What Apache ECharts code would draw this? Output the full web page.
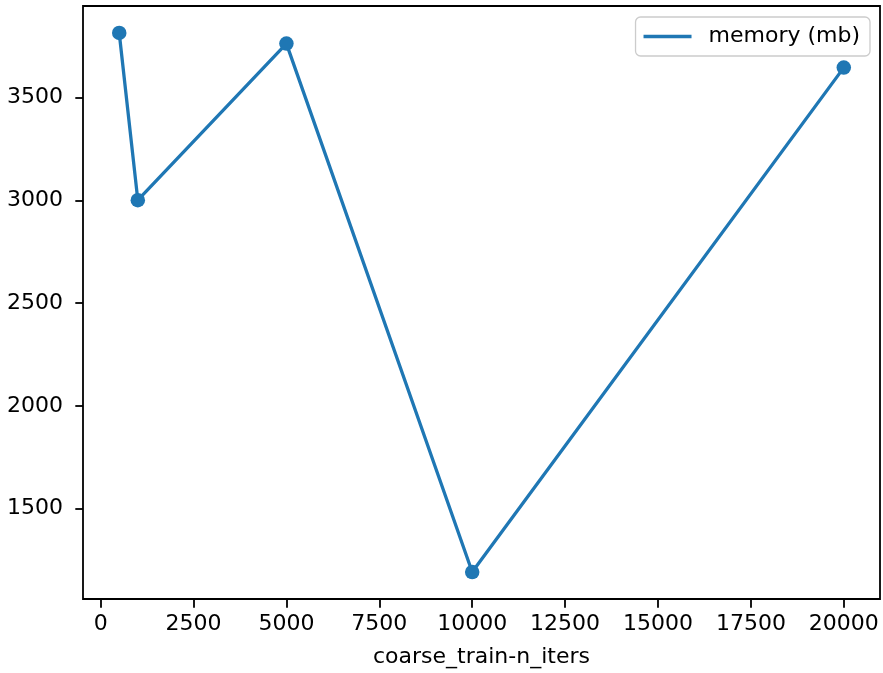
<!DOCTYPE html>
<html>
<head>
<meta charset="utf-8">
<script src="https://cdn.jsdelivr.net/npm/echarts@6/dist/echarts.min.js"></script>
<style>
  html, body { margin: 0; padding: 0; background: #fff; }
  #chart { width: 883px; height: 673px; }
</style>
</head>
<body>
<div id="chart"></div>
<script>
// Iteration counts and the memory measured at each
const iters = [500, 1000, 5000, 10000, 20000];
const memoryMb = [3815, 3000, 3763, 1187, 3646];
const xTicks = [0, 2500, 5000, 7500, 10000, 12500, 15000, 17500, 20000];
const yTicks = [1500, 2000, 2500, 3000, 3500];

const seriesName = 'memory (mb)';
const xName = 'coarse_train-n_iters';
const blue = '#1f77b4';
const font = 'DejaVu Sans';

const W = 883, H = 673;
// plot frame in pixels
const frame = { left: 83, right: 3, top: 6, bottom: 73 };
const tickLen = 7.7;

// 5% padding around the data range on each axis
function padded(vals) {
  const lo = Math.min(...vals), hi = Math.max(...vals);
  const m = (hi - lo) * 0.05;
  return [lo - m, hi + m];
}
const [xMin, xMax] = padded(iters);
const [yMin, yMax] = padded(memoryMb);

// Pixel span of the first..last tick inside the frame, so the tick
// axes can use a regular interval that starts on a round number.
const fw = W - frame.left - frame.right;
const fh = H - frame.top - frame.bottom;
const xs = fw / (xMax - xMin), ys = fh / (yMax - yMin);
const x0 = xTicks[0], x1 = xTicks[xTicks.length - 1];
const y0 = yTicks[0], y1 = yTicks[yTicks.length - 1];
const inner = {
  left: frame.left + (x0 - xMin) * xs,
  right: frame.right + (xMax - x1) * xs,
  top: frame.top + (yMax - y1) * ys,
  bottom: frame.bottom + (y0 - yMin) * ys
};

const tickStyle = { color: '#000', width: 1.8 };
const labelStyle = { fontFamily: font, fontSize: 22, color: '#000' };
const plain = v => String(v);
const off = { show: false };
const bare = gridIndex => ({
  gridIndex, type: 'value', show: true,
  axisLine: off, axisTick: off, axisLabel: off, splitLine: off
});

const chart = echarts.init(document.getElementById('chart'));
chart.setOption({
  animation: false,
  backgroundColor: '#fff',
  grid: [
    // 0: plot frame holding the data
    Object.assign({ show: true, borderColor: '#000', borderWidth: 1.8, backgroundColor: 'transparent' }, frame),
    // 1: tick-label axes, first..last tick
    Object.assign({ show: false }, inner),
    // 2: strip under the frame for the x tick marks
    { show: false, left: inner.left, right: inner.right, top: H - frame.bottom, height: tickLen },
    // 3: strip left of the frame for the y tick marks
    { show: false, left: frame.left - tickLen, width: tickLen, top: inner.top, bottom: inner.bottom }
  ],
  legend: {
    right: 13, top: 17,
    data: [seriesName],
    icon: 'rect',
    itemWidth: 48, itemHeight: 3.3,
    itemGap: 0,
    padding: [7, 10, 7, 8],
    backgroundColor: '#fff',
    borderColor: '#cccccc',
    borderWidth: 1.3,
    borderRadius: 5,
    textStyle: Object.assign({ lineHeight: 25, padding: [0, 0, 0, 12] }, labelStyle)
  },
  xAxis: [
    Object.assign(bare(0), {
      min: xMin, max: xMax,
      name: xName, nameLocation: 'middle', nameGap: 47, nameTextStyle: labelStyle
    }),
    Object.assign(bare(1), {
      min: x0, max: x1, interval: xTicks[1] - xTicks[0],
      offset: inner.bottom - frame.bottom,
      axisLabel: Object.assign({ show: true, formatter: plain, margin: 13 }, labelStyle)
    }),
    Object.assign(bare(2), {
      min: x0, max: x1, interval: xTicks[1] - xTicks[0],
      splitLine: { show: true, showMinLine: true, showMaxLine: true, lineStyle: tickStyle }
    }),
    bare(3)
  ],
  yAxis: [
    Object.assign(bare(0), { min: yMin, max: yMax }),
    Object.assign(bare(1), {
      min: y0, max: y1, interval: yTicks[1] - yTicks[0],
      offset: inner.left - frame.left,
      axisLabel: Object.assign({ show: true, formatter: plain, margin: 20 }, labelStyle)
    }),
    bare(2),
    Object.assign(bare(3), {
      min: y0, max: y1, interval: yTicks[1] - yTicks[0],
      splitLine: { show: true, showMinLine: true, showMaxLine: true, lineStyle: tickStyle }
    })
  ],
  series: [{
    name: seriesName,
    type: 'line',
    xAxisIndex: 0,
    yAxisIndex: 0,
    data: iters.map((x, i) => [x, memoryMb[i]]),
    lineStyle: { color: blue, width: 3.3 },
    itemStyle: { color: blue },
    symbol: 'circle',
    symbolSize: 14.5,
    showAllSymbol: true
  }]
});
</script>
</body>
</html>
